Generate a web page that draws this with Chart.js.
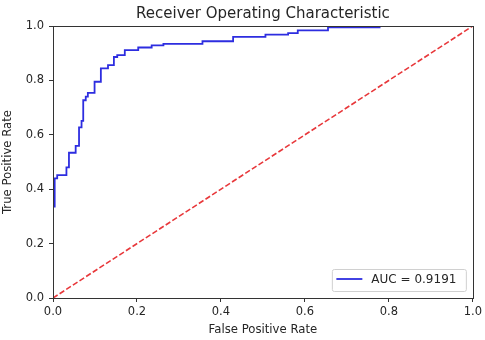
<!DOCTYPE html>
<html><head><meta charset="utf-8">
<script src="https://cdn.jsdelivr.net/npm/chart.js@4/dist/chart.umd.min.js"></script>
<style>html,body{margin:0;padding:0;background:#fff}#wrap{width:485px;height:340px}</style>
</head><body><div id="wrap"><canvas id="c" width="485" height="340"></canvas></div>
<script>
// ROC curve corner points
const fpr = [0, 0, 0.004, 0.004, 0.010, 0.010, 0.032, 0.032, 0.038, 0.038, 0.054, 0.054, 0.062, 0.062, 0.068, 0.068, 0.072, 0.072, 0.078, 0.078, 0.083, 0.083, 0.099, 0.099, 0.114, 0.114, 0.131, 0.131, 0.145, 0.145, 0.153, 0.153, 0.171, 0.171, 0.203, 0.203, 0.235, 0.235, 0.263, 0.263, 0.356, 0.356, 0.429, 0.429, 0.506, 0.506, 0.560, 0.560, 0.583, 0.583, 0.655, 0.655, 0.780];
const tpr = [0, 0.336, 0.336, 0.440, 0.440, 0.452, 0.452, 0.480, 0.480, 0.534, 0.534, 0.559, 0.559, 0.627, 0.627, 0.651, 0.651, 0.727, 0.727, 0.740, 0.740, 0.754, 0.754, 0.795, 0.795, 0.844, 0.844, 0.856, 0.856, 0.886, 0.886, 0.893, 0.893, 0.911, 0.911, 0.921, 0.921, 0.929, 0.929, 0.934, 0.934, 0.944, 0.944, 0.960, 0.960, 0.968, 0.968, 0.974, 0.974, 0.984, 0.984, 0.995, 0.995];
const diagX = [0, 1];
const diagY = [0, 1];
const xTicks = [0, 0.2, 0.4, 0.6, 0.8, 1.0];
const yTicks = [0, 0.2, 0.4, 0.6, 0.8, 1.0];
const aucLabel = 'AUC = 0.9191';
const chartTitle = 'Receiver Operating Characteristic';
const xTitle = 'False Positive Rate';
const yTitle = 'True Positive Rate';

const FONT = 'DejaVu Sans';
const TXT = '#262626';
const AX = '#333';

const rocPts = fpr.map((x, i) => ({x, y: tpr[i]}));
const diagPts = diagX.map((x, i) => ({x, y: diagY[i]}));

const frame = {
  id: 'frame',
  afterDatasetsDraw(chart) {
    const {ctx, chartArea: a} = chart;
    ctx.save();
    ctx.strokeStyle = AX;
    ctx.lineWidth = 1;
    ctx.strokeRect(Math.round(a.left) + 0.5, Math.round(a.top) + 0.5, Math.round(a.right - a.left), Math.round(a.bottom - a.top));
    ctx.restore();
  },
  afterDraw(chart) {
    const {ctx, chartArea: a} = chart;
    const ds = chart.data.datasets[0];
    ctx.save();
    const bx = a.right - 140.5, by = a.bottom - 28.5, bw = 134, bh = 22;
    ctx.fillStyle = 'rgba(255,255,255,0.8)';
    ctx.strokeStyle = '#d0d0d0';
    ctx.lineWidth = 1;
    ctx.beginPath();
    ctx.roundRect(bx, by, bw, bh, 2);
    ctx.fill();
    ctx.stroke();
    ctx.strokeStyle = ds.borderColor;
    ctx.lineWidth = ds.borderWidth;
    ctx.beginPath();
    ctx.moveTo(bx + 4, by + 9.5);
    ctx.lineTo(bx + 30, by + 9.5);
    ctx.stroke();
    ctx.fillStyle = TXT;
    ctx.font = '12px "' + FONT + '"';
    ctx.textBaseline = 'middle';
    ctx.textAlign = 'left';
    ctx.fillText(ds.label, bx + 39, by + 10);
    ctx.restore();
  }
};

function fixTicks(list) {
  return function(scale) { scale.ticks = list.map(v => ({value: v})); };
}

new Chart(document.getElementById('c'), {
  type: 'scatter',
  data: {
    datasets: [
      {label: aucLabel, data: rocPts, showLine: true, borderColor: '#2d2de0', borderWidth: 1.8, pointRadius: 0, tension: 0, fill: false, order: 2},
      {label: 'diag', data: diagPts, showLine: true, borderColor: '#e8383b', borderWidth: 1.6, borderDash: [5.5, 2.4], pointRadius: 0, tension: 0, fill: false, order: 1}
    ]
  },
  options: {
    responsive: false,
    animation: false,
    devicePixelRatio: 1,
    layout: {padding: {right: 12, left: 0, top: 0, bottom: 0}},
    plugins: {
      legend: {display: false},
      tooltip: {enabled: false},
      title: {display: true, fullSize: false, text: chartTitle, color: TXT, font: {family: FONT, size: 15, weight: 'normal', lineHeight: 1.2}, padding: {top: 5, bottom: 3}}
    },
    scales: {
      x: {
        type: 'linear', min: 0, max: 1, position: 'bottom',
        afterBuildTicks: fixTicks(xTicks),
        afterFit(s) { s.height = 42; },
        grid: {display: true, drawOnChartArea: false, drawTicks: true, tickLength: 4, tickColor: AX},
        border: {display: true, color: AX, width: 1},
        ticks: {padding: 3, color: TXT, font: {family: FONT, size: 11.5}, maxRotation: 0, callback: v => v.toFixed(1)},
        title: {display: true, text: xTitle, color: TXT, font: {family: FONT, size: 11.7}, padding: {top: 0, bottom: 3}}
      },
      y: {
        type: 'linear', min: 0, max: 1, position: 'left',
        afterBuildTicks: fixTicks(yTicks),
        afterFit(s) { s.width = 53; },
        grid: {display: true, drawOnChartArea: false, drawTicks: true, tickLength: 4, tickColor: AX},
        border: {display: true, color: AX, width: 1},
        ticks: {padding: 5, color: TXT, font: {family: FONT, size: 11.5}, callback: v => v.toFixed(1)},
        title: {display: true, text: yTitle, color: TXT, font: {family: FONT, size: 11.7}, padding: {top: 1, bottom: 0}}
      }
    }
  },
  plugins: [frame]
});
</script>
</body></html>
